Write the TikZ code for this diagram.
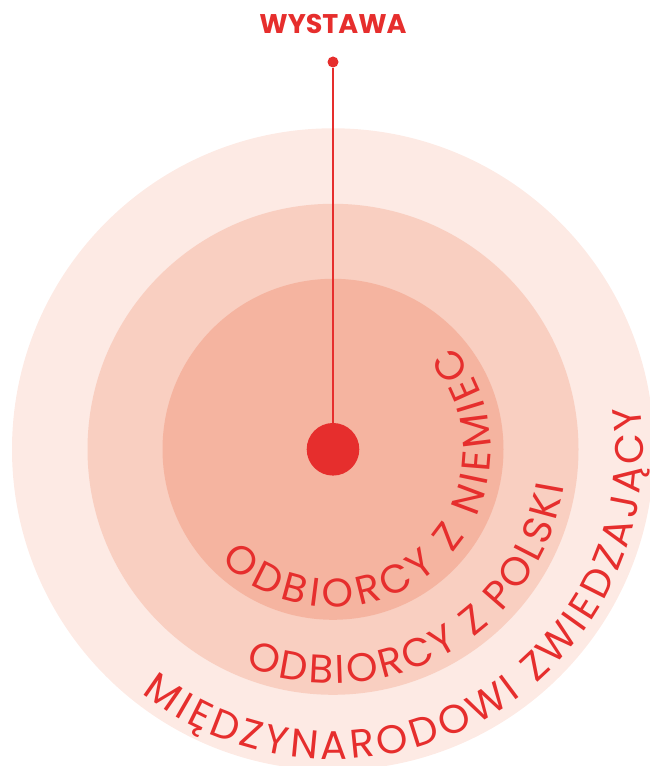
\documentclass[tikz,border=0pt]{standalone}
\usepackage{fontspec}
\setmainfont{Poppins}
\newfontfamily\arcfont{Poppins}
\usetikzlibrary{decorations.text}
\definecolor{ringA}{HTML}{FDEAE4}
\definecolor{ringB}{HTML}{F9CFC1}
\definecolor{ringC}{HTML}{F5B4A0}
\definecolor{accent}{HTML}{E62E2D}
\tikzset{
  ring/.style={draw=none},
  dotnode/.style={circle, fill=accent, draw=none, inner sep=0pt},
  stem/.style={draw=accent, line width=2pt},
  arctext/.style={decorate, decoration={text along path, text align={fit to path},
     text={|\arcfont\fontsize{40}{48}\selectfont\color{accent}|#1}}}
}
\begin{document}
\begin{tikzpicture}[x=1pt,y=1pt]
\useasboundingbox (0,0) rectangle (650,766);
\clip (0,0) rectangle (650,766);
\coordinate (C) at (333,316.7);
\fill[ringA] (C) circle[radius=321];
\fill[ringB] (C) circle[radius=245.5];
\fill[ringC] (C) circle[radius=170.5];
\node[font=\bfseries\fontsize{27}{30}\selectfont, text=accent] (title) at (333,742.5) {WYSTAWA};
\node[dotnode, minimum size=11pt] (top) at (333,704) {};
\node[dotnode, minimum size=52.6pt] (hub) at (C) {};
\draw[stem] (top) -- (hub);
\path[arctext={ODBIORCY Z NIEMIEC}] ([shift={(225:158)}]C) arc[start angle=225, end angle=401, radius=158];
\path[arctext={ODBIORCY Z POLSKI}] ([shift={(248:234)}]C) arc[start angle=248, end angle=351, radius=234];
\path[arctext={MIĘDZYNARODOWI ZWIEDZAJĄCY}] ([shift={(232:310)}]C) arc[start angle=232, end angle=368, radius=310];
\end{tikzpicture}
\end{document}
